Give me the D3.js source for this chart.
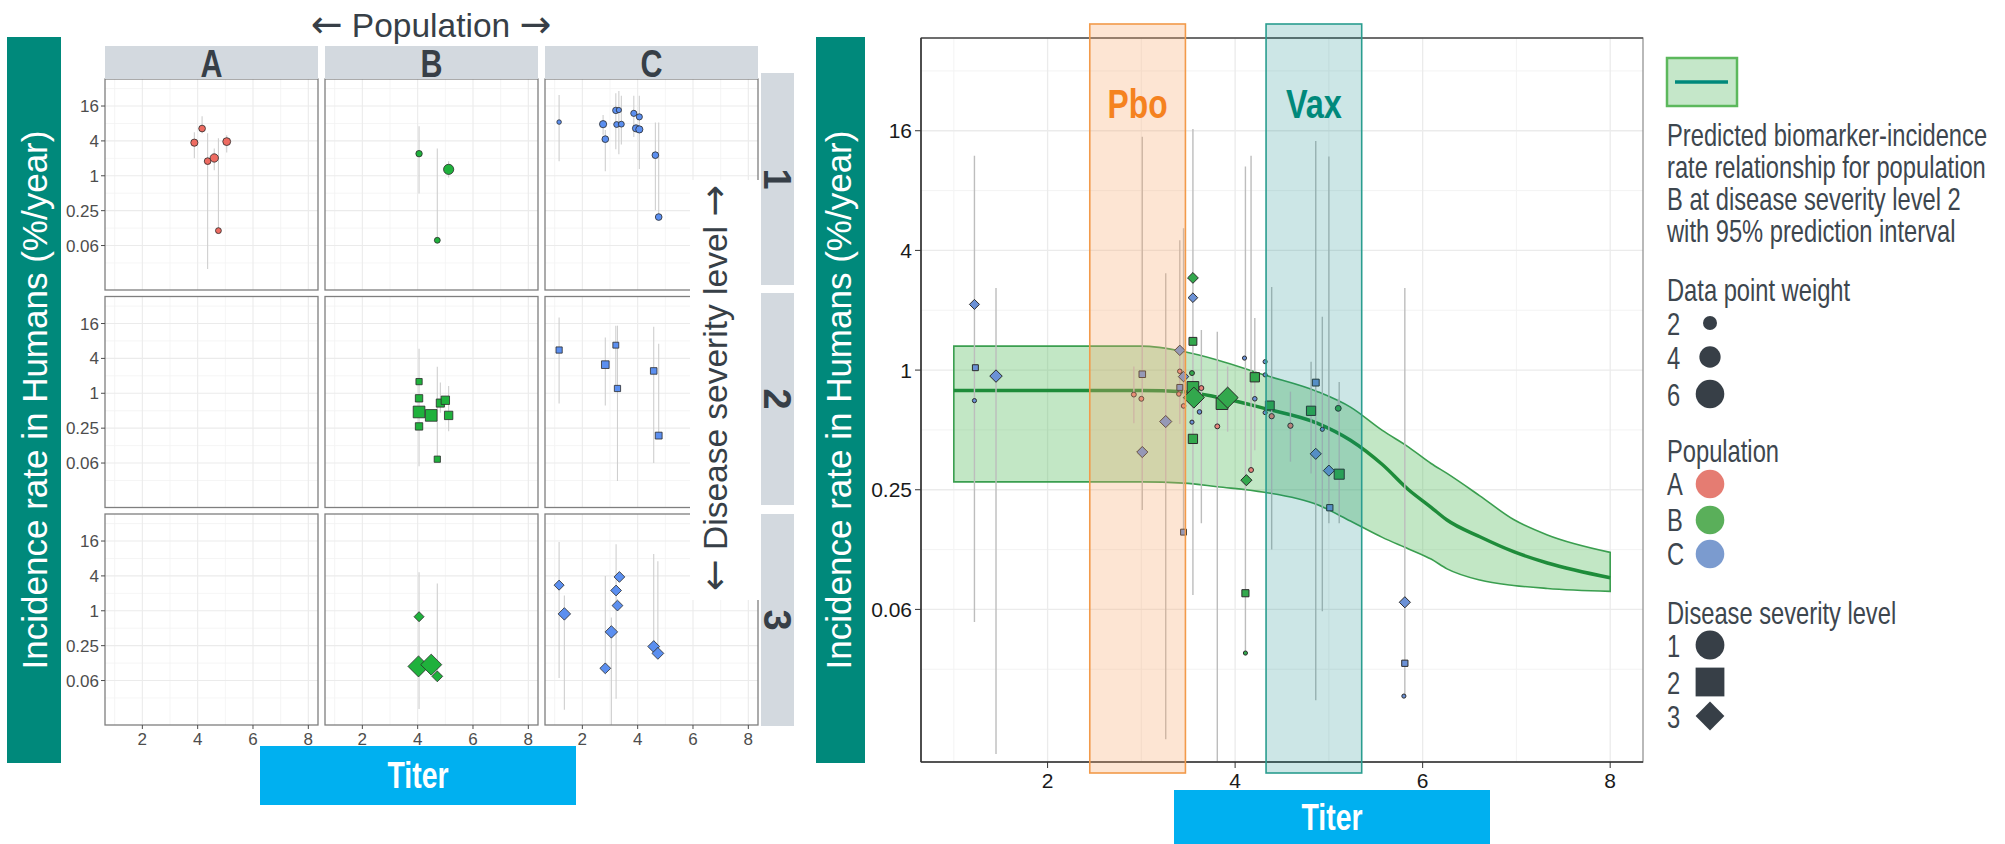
<!DOCTYPE html>
<html>
<head>
<meta charset="utf-8">
<script src="https://cdn.jsdelivr.net/npm/d3@7"></script>
<style>
  html, body { margin: 0; padding: 0; background: #fff; }
  svg { display: block; font-family: "Liberation Sans", Arial, sans-serif; }
</style>
</head>
<body>
<svg id="chart" width="2005" height="844"></svg>
<script>
// ---------------- data ----------------
const populations = ["A", "B", "C"];
const severityLevels = [1, 2, 3];
const rateTicks = [16, 4, 1, 0.25, 0.0625];
const rateTickLabels = ["16", "4", "1", "0.25", "0.06"];
const rateMinor = [32, 8, 2, 0.5, 0.125, 0.03125];
const titerTicks = [2, 4, 6, 8];
const titerMinor = [1, 3, 5, 7];

// Study-level estimates by population and severity:
// [population, severity, titer, rate, lower, upper, weight]
const facetObs = [
  ["A", 1, 3.88, 3.73, 2.0, 5.66, 1.5],
  ["A", 1, 4.16, 6.54, 5.43, 10.7, 1.3],
  ["A", 1, 4.36, 1.79, 0.0247, 5.43, 1.3],
  ["A", 1, 4.60, 2.03, 1.24, 2.97, 2.0],
  ["A", 1, 5.05, 3.89, 2.53, 4.99, 1.8],
  ["A", 1, 4.75, 0.113, 0.113, 4.44, 1.0],
  ["B", 1, 4.05, 2.41, 0.493, 7.16, 1.2],
  ["B", 1, 5.12, 1.29, 0.933, 1.78, 3.0],
  ["B", 1, 4.71, 0.077, 0.0759, 2.97, 1.0],
  ["C", 1, 1.16, 8.46, 1.78, 24.9, 0.6],
  ["C", 1, 2.75, 7.78, 5.1, 11.16, 1.5],
  ["C", 1, 2.83, 4.29, 1.2, 6.19, 1.3],
  ["C", 1, 3.21, 13.45, 2.87, 26.5, 1.2],
  ["C", 1, 3.32, 13.64, 2.36, 29.0, 0.8],
  ["C", 1, 3.24, 7.67, null, null, 1.0],
  ["C", 1, 3.41, 7.78, 3.46, 24.1, 1.0],
  ["C", 1, 3.86, 11.96, 4.66, 24.1, 1.1],
  ["C", 1, 4.06, 10.4, 1.31, 24.1, 1.1],
  ["C", 1, 3.94, 6.59, null, null, 1.5],
  ["C", 1, 4.06, 6.32, null, null, 1.5],
  ["C", 1, 4.64, 2.27, 0.254, 8.28, 1.3],
  ["C", 1, 4.76, 0.194, 0.194, 8.28, 1.3],
  ["B", 2, 4.05, 1.59, 0.0548, 5.86, 1.0],
  ["B", 2, 4.05, 0.818, null, null, 1.4],
  ["B", 2, 4.05, 0.476, null, null, 3.5],
  ["B", 2, 4.05, 0.268, null, null, 1.4],
  ["B", 2, 4.49, 0.415, null, null, 3.5],
  ["B", 2, 4.82, 0.678, 0.463, 1.53, 1.7],
  ["B", 2, 5.00, 0.758, null, null, 1.8],
  ["B", 2, 5.12, 0.415, 0.222, 1.34, 1.8],
  ["B", 2, 4.71, 0.0728, 0.0728, 2.87, 1.0],
  ["C", 2, 1.16, 5.58, 0.664, 20.25, 1.0],
  ["C", 2, 2.83, 3.12, 0.616, 9.19, 1.5],
  ["C", 2, 3.21, 6.77, 1.34, 14.7, 0.9],
  ["C", 2, 3.27, 1.21, 0.0306, 14.7, 1.0],
  ["C", 2, 4.58, 2.43, 0.0625, 14.1, 1.1],
  ["C", 2, 4.76, 0.186, 0.186, 7.16, 1.2],
  ["B", 3, 4.05, 0.79, 0.0202, 4.63, 1.3],
  ["B", 3, 4.03, 0.1096, null, null, 5.7],
  ["B", 3, 4.49, 0.1175, null, null, 5.7],
  ["B", 3, 4.71, 0.0738, 0.0728, 2.97, 1.5],
  ["C", 3, 1.16, 2.77, 0.0688, 15.45, 1.3],
  ["C", 3, 1.35, 0.883, 0.0195, 1.84, 2.0],
  ["C", 3, 2.83, 0.1015, 0.1015, 4.0, 1.5],
  ["C", 3, 3.05, 0.432, 0.0099, 0.768, 2.0],
  ["C", 3, 3.22, 2.24, 0.0302, 14.1, 1.5],
  ["C", 3, 3.27, 1.23, null, null, 1.5],
  ["C", 3, 3.34, 3.84, null, null, 1.5],
  ["C", 3, 4.58, 0.2415, 0.2415, 9.51, 1.8],
  ["C", 3, 4.73, 0.184, 0.182, 7.16, 1.8]
];

// Pooled estimates plotted against the fitted curve:
// [population, severity, titer, rate, lower, upper, weight]
const pooledObs = [
  ["C", 3, 1.22, 2.14, 0.0541, 11.96, 1.3],
  ["C", 2, 1.23, 1.028, null, null, 0.9],
  ["C", 1, 1.22, 0.702, null, null, 0.5],
  ["C", 3, 1.45, 0.933, 0.0117, 2.585, 2.0],
  ["C", 2, 3.01, 0.953, null, null, 1.1],
  ["A", 1, 2.92, 0.753, 0.54, 1.043, 0.7],
  ["A", 1, 3.00, 0.717, null, null, 0.7],
  ["C", 3, 3.26, 0.551, 0.0139, 3.07, 1.9],
  ["C", 3, 3.01, 0.387, 0.1975, 14.93, 1.6],
  ["C", 3, 3.41, 1.257, 0.536, 4.5, 1.4],
  ["A", 1, 3.41, 0.986, null, null, 0.6],
  ["C", 3, 3.45, 0.927, null, null, 1.4],
  ["C", 2, 3.41, 0.818, null, null, 0.9],
  ["A", 1, 3.40, 0.758, null, null, 0.6],
  ["A", 1, 3.45, 0.66, null, null, 0.6],
  ["C", 2, 3.45, 0.153, 0.153, 5.17, 0.9],
  ["B", 3, 3.55, 2.908, 0.0738, 16.33, 1.5],
  ["C", 3, 3.55, 2.313, null, null, 1.2],
  ["B", 2, 3.55, 1.395, null, null, 1.6],
  ["B", 1, 3.54, 0.966, null, null, 0.7],
  ["B", 2, 3.55, 0.818, null, null, 3.5],
  ["B", 3, 3.56, 0.727, null, null, 5.7],
  ["A", 1, 3.64, 0.812, 0.1696, 1.591, 0.7],
  ["C", 1, 3.62, 0.616, null, null, 0.6],
  ["C", 1, 3.54, 0.547, null, null, 0.5],
  ["B", 2, 3.55, 0.4506, null, null, 2.2],
  ["B", 2, 3.86, 0.678, null, null, 3.5],
  ["B", 3, 3.92, 0.727, 0.49, 1.043, 5.7],
  ["A", 1, 3.81, 0.521, 0.0103, 1.558, 0.7],
  ["C", 1, 4.10, 1.149, null, null, 0.5],
  ["B", 2, 4.21, 0.92, null, null, 2.2],
  ["C", 1, 4.21, 0.717, 0.395, 1.828, 0.6],
  ["C", 1, 4.32, 1.102, null, null, 0.5],
  ["C", 1, 4.32, 0.946, null, null, 0.5],
  ["B", 2, 4.37, 0.664, null, null, 2.0],
  ["C", 1, 4.32, 0.611, null, null, 0.5],
  ["A", 1, 4.39, 0.586, 0.125, 2.62, 0.8],
  ["A", 1, 4.59, 0.525, 0.346, 0.779, 0.8],
  ["C", 2, 4.86, 0.865, 0.0218, 14.22, 1.2],
  ["B", 2, 4.81, 0.624, 0.3015, 1.102, 2.2],
  ["B", 1, 5.10, 0.642, 0.616, 0.717, 1.0],
  ["C", 1, 4.93, 0.5035, 0.0612, 1.853, 0.5],
  ["C", 3, 4.86, 0.379, null, null, 1.6],
  ["C", 3, 5.00, 0.312, 0.1696, 11.88, 1.6],
  ["B", 2, 5.11, 0.2994, 0.1696, 0.871, 2.6],
  ["C", 2, 5.01, 0.203, null, null, 1.0],
  ["A", 1, 4.17, 0.3142, 0.3142, 11.96, 0.7],
  ["B", 3, 4.12, 0.2793, null, null, 1.6],
  ["B", 2, 4.11, 0.0754, 0.0375, 10.56, 1.3],
  ["B", 1, 4.11, 0.0377, null, null, 0.5],
  ["C", 3, 5.81, 0.0679, 0.0229, 2.585, 1.6],
  ["C", 2, 5.81, 0.0335, null, null, 1.0],
  ["C", 1, 5.80, 0.0229, null, null, 0.5]
];

// Fitted biomarker-incidence curve (population B, severity 2) with 95% prediction interval
const curveTiter = [1.0, 3.0, 3.45, 3.81, 4.31, 4.88, 5.23, 5.57, 5.85, 6.09, 6.26, 6.61, 6.97, 7.33, 8.0];
const curveFit   = [0.79, 0.79, 0.779, 0.732, 0.642, 0.54, 0.444, 0.335, 0.25, 0.204, 0.176, 0.145, 0.122, 0.107, 0.0902];
const curveUpper = [1.32, 1.32, 1.24, 1.125, 0.946, 0.779, 0.651, 0.497, 0.41, 0.339, 0.302, 0.233, 0.177, 0.148, 0.121];
const curveLower = [0.274, 0.274, 0.27, 0.259, 0.243, 0.21, 0.174, 0.144, 0.126, 0.112, 0.1, 0.0878, 0.0825, 0.0797, 0.077];

// Titer ranges of the two trial arms
const regimens = ["Pbo", "Vax"];
const regimenFrom = [2.45, 4.33];
const regimenTo = [3.47, 5.35];

const legendWeights = [2, 4, 6];
const legendNote = [
  "Predicted biomarker-incidence",
  "rate relationship for population",
  "B at disease severity level 2",
  "with 95% prediction interval"
];

// ---------------- styling ----------------
const INK = "#373f47";
const TEAL = "#00897b";
const SKY = "#00b0f0";
const STRIP = "#d3d9df";
const GRID = "#ebebeb";
const GRID_MINOR = "#f3f3f3";
const fillFacet = { A: "#ee6b61", B: "#1fb13c", C: "#5b8ff0" };
const fillPooled = { A: "#e6837a", B: "#33a84d", C: "#6b91d6" };
const fillLegend = { A: "#e57c72", B: "#5aaf5a", C: "#7b9bcf" };

const sizeOf = d3.scaleSqrt().domain([0, 6]).range([0, 9]);

// symbol path: circle for severity 1, square for 2, diamond for 3
function symbol(sev, s, k) {
  if (sev === 1) {
    const r = s * k[0];
    return `M${-r},0A${r},${r} 0 1,0 ${r},0A${r},${r} 0 1,0 ${-r},0Z`;
  }
  if (sev === 2) {
    const h = s * k[1];
    return `M${-h},${-h}H${h}V${h}H${-h}Z`;
  }
  const d = s * k[2];
  return `M0,${-d}L${d},0L0,${d}L${-d},0Z`;
}
const PLOT_K = [0.8, 0.85, 1.2];

// text with large arrow glyphs on both sides
function arrowTitle(sel, words) {
  sel.append("tspan").attr("font-family", "DejaVu Sans").attr("font-size", 38).text("\u2190");
  sel.append("tspan").text(" " + words + " ");
  sel.append("tspan").attr("font-family", "DejaVu Sans").attr("font-size", 38).text("\u2192");
}

const svg = d3.select("#chart");
svg.append("rect").attr("width", 2005).attr("height", 844).attr("fill", "#fff");

// ================= faceted panels =================
const FW = 213, FH = 211;
const colX = [105, 325, 545];
const rowY = [79, 296.5, 514];
const fx = d3.scaleLinear().domain([0.65, 8.35]).range([0, FW]);
const fy = d3.scaleLog().base(2).domain([2 ** -6.55, 2 ** 5.55]).range([FH, 0]).clamp(true);

const facets = svg.append("g");
severityLevels.forEach((sev, ri) => {
  populations.forEach((pop, ci) => {
    const g = facets.append("g").attr("transform", `translate(${colX[ci]},${rowY[ri]})`);
    g.append("rect").attr("width", FW).attr("height", FH).attr("fill", "#fff");
    g.selectAll(".vmin").data(titerMinor).join("line")
      .attr("x1", d => fx(d)).attr("x2", d => fx(d)).attr("y1", 0).attr("y2", FH)
      .attr("stroke", GRID_MINOR).attr("stroke-width", 0.8);
    g.selectAll(".hmin").data(rateMinor).join("line")
      .attr("y1", d => fy(d)).attr("y2", d => fy(d)).attr("x1", 0).attr("x2", FW)
      .attr("stroke", GRID_MINOR).attr("stroke-width", 0.8);
    g.selectAll(".vmaj").data(titerTicks).join("line")
      .attr("x1", d => fx(d)).attr("x2", d => fx(d)).attr("y1", 0).attr("y2", FH)
      .attr("stroke", GRID).attr("stroke-width", 1.1);
    g.selectAll(".hmaj").data(rateTicks).join("line")
      .attr("y1", d => fy(d)).attr("y2", d => fy(d)).attr("x1", 0).attr("x2", FW)
      .attr("stroke", GRID).attr("stroke-width", 1.1);

    const obs = facetObs.filter(d => d[0] === pop && d[1] === sev);
    g.selectAll(".bar").data(obs.filter(d => d[4] !== null)).join("line")
      .attr("x1", d => fx(d[2])).attr("x2", d => fx(d[2]))
      .attr("y1", d => fy(d[4])).attr("y2", d => fy(d[5]))
      .attr("stroke", "#cfcfcf").attr("stroke-width", 1.1);
    g.selectAll(".pt").data(obs).join("path")
      .attr("transform", d => `translate(${fx(d[2])},${fy(d[3])})`)
      .attr("d", d => symbol(sev, sizeOf(d[6]), PLOT_K))
      .attr("fill", fillFacet[pop]).attr("stroke", "#2b2b2b").attr("stroke-width", 0.8);

    g.append("rect").attr("width", FW).attr("height", FH)
      .attr("fill", "none").attr("stroke", "#7f7f7f").attr("stroke-width", 1.3);

    if (ci === 0) {
      g.selectAll(".yt").data(rateTicks).join("line")
        .attr("x1", -4).attr("x2", 0).attr("y1", d => fy(d)).attr("y2", d => fy(d))
        .attr("stroke", "#4d4d4d");
      g.selectAll(".yl").data(rateTicks).join("text")
        .attr("x", -6).attr("y", d => fy(d) + 6)
        .attr("text-anchor", "end").attr("font-size", 17).attr("fill", "#4d4d4d")
        .text((d, i) => rateTickLabels[i]);
    }
    if (ri === 2) {
      g.selectAll(".xt").data(titerTicks).join("line")
        .attr("x1", d => fx(d)).attr("x2", d => fx(d)).attr("y1", FH).attr("y2", FH + 4)
        .attr("stroke", "#4d4d4d");
      g.selectAll(".xl").data(titerTicks).join("text")
        .attr("x", d => fx(d)).attr("y", FH + 20)
        .attr("text-anchor", "middle").attr("font-size", 17).attr("fill", "#4d4d4d")
        .text(d => d);
    }
  });
});

// column strips
populations.forEach((pop, ci) => {
  facets.append("rect").attr("x", colX[ci]).attr("y", 46).attr("width", FW).attr("height", 33).attr("fill", STRIP);
  facets.append("text").attr("x", colX[ci] + FW / 2).attr("y", 77)
    .attr("text-anchor", "middle").attr("font-size", 38).attr("font-weight", "bold")
    .attr("fill", INK).attr("textLength", 22).attr("lengthAdjust", "spacingAndGlyphs").text(pop);
});
// row strips
const rowStripTop = [73, 293, 514];
severityLevels.forEach((sev, ri) => {
  facets.append("rect").attr("x", 761).attr("y", rowStripTop[ri]).attr("width", 33).attr("height", 212).attr("fill", STRIP);
  facets.append("text").attr("transform", `translate(764,${rowStripTop[ri] + 106}) rotate(90)`)
    .attr("text-anchor", "middle").attr("font-size", 38).attr("font-weight", "bold")
    .attr("fill", INK).text(sev);
});

// facet titles
arrowTitle(
  svg.append("text").attr("x", 431).attr("y", 37).attr("text-anchor", "middle")
    .attr("font-size", 33.5).attr("fill", INK),
  "Population");
svg.append("rect").attr("x", 690).attr("y", 180).attr("width", 70).attr("height", 420).attr("fill", "#fff");
arrowTitle(
  svg.append("text").attr("transform", "translate(727,388) rotate(-90)").attr("text-anchor", "middle")
    .attr("font-size", 33.5).attr("fill", INK),
  "Disease severity level");

// axis title boxes
function tealTitle(x0, w, baseX) {
  svg.append("rect").attr("x", x0).attr("y", 37).attr("width", w).attr("height", 726).attr("fill", TEAL);
  svg.append("text").attr("transform", `translate(${baseX},400) rotate(-90)`).attr("text-anchor", "middle")
    .attr("font-size", 35).attr("fill", "#fff").text("Incidence rate in Humans (%/year)");
}
function titerTitle(x0, y0, h, base) {
  svg.append("rect").attr("x", x0).attr("y", y0).attr("width", 316).attr("height", h).attr("fill", SKY);
  svg.append("text").attr("x", x0 + 158).attr("y", base).attr("text-anchor", "middle")
    .attr("font-size", 36).attr("font-weight", "bold").attr("fill", "#fff")
    .attr("textLength", 61).attr("lengthAdjust", "spacingAndGlyphs").text("Titer");
}
tealTitle(7, 54, 47);
titerTitle(260, 746, 59, 788);

// ================= pooled panel =================
const RX0 = 921, RX1 = 1643, RY0 = 38, RY1 = 762;
const xR = d3.scaleLinear().domain([0.65, 8.35]).range([RX0, RX1]);
const yR = d3.scaleLog().base(2).domain([2 ** -6.55, 2 ** 5.55]).range([RY1, RY0]).clamp(true);

const rp = svg.append("g");
rp.append("rect").attr("x", RX0).attr("y", RY0).attr("width", RX1 - RX0).attr("height", RY1 - RY0).attr("fill", "#fff");
rp.selectAll(".vmin").data(titerMinor).join("line")
  .attr("x1", d => xR(d)).attr("x2", d => xR(d)).attr("y1", RY0).attr("y2", RY1)
  .attr("stroke", GRID_MINOR).attr("stroke-width", 1);
rp.selectAll(".hmin").data(rateMinor).join("line")
  .attr("y1", d => yR(d)).attr("y2", d => yR(d)).attr("x1", RX0).attr("x2", RX1)
  .attr("stroke", GRID_MINOR).attr("stroke-width", 1);
rp.selectAll(".vmaj").data(titerTicks).join("line")
  .attr("x1", d => xR(d)).attr("x2", d => xR(d)).attr("y1", RY0).attr("y2", RY1)
  .attr("stroke", GRID).attr("stroke-width", 1.3);
rp.selectAll(".hmaj").data(rateTicks).join("line")
  .attr("y1", d => yR(d)).attr("y2", d => yR(d)).attr("x1", RX0).attr("x2", RX1)
  .attr("stroke", GRID).attr("stroke-width", 1.3);

// prediction band and fitted line
const curve = curveTiter.map((t, i) => ({ t, fit: curveFit[i], lo: curveLower[i], hi: curveUpper[i] }));
rp.append("path").datum(curve)
  .attr("d", d3.area().x(d => xR(d.t)).y0(d => yR(d.lo)).y1(d => yR(d.hi)).curve(d3.curveMonotoneX))
  .attr("fill", "rgba(80,185,90,0.35)").attr("stroke", "#3a9e4f").attr("stroke-width", 1.6);
rp.append("path").datum(curve)
  .attr("d", d3.line().x(d => xR(d.t)).y(d => yR(d.fit)).curve(d3.curveMonotoneX))
  .attr("fill", "none").attr("stroke", "#1e8c3a").attr("stroke-width", 3.5);

// error bars and points
rp.selectAll(".bar").data(pooledObs.filter(d => d[4] !== null)).join("line")
  .attr("x1", d => xR(d[2])).attr("x2", d => xR(d[2]))
  .attr("y1", d => yR(d[4])).attr("y2", d => yR(d[5]))
  .attr("stroke", "#bdbdbd").attr("stroke-width", 1.4);
rp.selectAll(".pt").data(pooledObs).join("path")
  .attr("transform", d => `translate(${xR(d[2])},${yR(d[3])})`)
  .attr("d", d => symbol(d[1], sizeOf(d[6]), PLOT_K))
  .attr("fill", d => fillPooled[d[0]]).attr("stroke", "#2b2b2b").attr("stroke-width", 1);

// panel frame and axes
rp.append("rect").attr("x", RX0).attr("y", RY0).attr("width", RX1 - RX0).attr("height", RY1 - RY0)
  .attr("fill", "none").attr("stroke", "#8a8a8a").attr("stroke-width", 1.2);
rp.append("line").attr("x1", RX0).attr("x2", RX1).attr("y1", RY0).attr("y2", RY0).attr("stroke", "#555").attr("stroke-width", 1.4);
rp.append("line").attr("x1", RX0).attr("x2", RX0).attr("y1", RY0).attr("y2", RY1).attr("stroke", "#333").attr("stroke-width", 1.6);
rp.append("line").attr("x1", RX0).attr("x2", RX1).attr("y1", RY1).attr("y2", RY1).attr("stroke", "#333").attr("stroke-width", 1.6);
rp.selectAll(".yt").data(rateTicks).join("line")
  .attr("x1", RX0 - 6).attr("x2", RX0).attr("y1", d => yR(d)).attr("y2", d => yR(d)).attr("stroke", "#333");
rp.selectAll(".yl").data(rateTicks).join("text")
  .attr("x", RX0 - 9).attr("y", d => yR(d) + 7.5).attr("text-anchor", "end")
  .attr("font-size", 21).attr("fill", "#1a1a1a").text((d, i) => rateTickLabels[i]);
rp.selectAll(".xt").data(titerTicks).join("line")
  .attr("x1", d => xR(d)).attr("x2", d => xR(d)).attr("y1", RY1).attr("y2", RY1 + 6).attr("stroke", "#333");
rp.selectAll(".xl").data(titerTicks).join("text")
  .attr("x", d => xR(d)).attr("y", 788).attr("text-anchor", "middle")
  .attr("font-size", 21).attr("fill", "#1a1a1a").text(d => d);

// trial-arm titer windows
const armFill = ["rgba(248,170,110,0.3)", "rgba(0,128,128,0.2)"];
const armStroke = ["#f29a4a", "#2a9d8f"];
const armText = ["#f5821f", "#00897b"];
const armTextLen = [60, 56];
regimens.forEach((name, i) => {
  const x0 = xR(regimenFrom[i]), x1 = xR(regimenTo[i]);
  rp.append("rect").attr("x", x0).attr("y", 24).attr("width", x1 - x0).attr("height", 749)
    .attr("fill", armFill[i]).attr("stroke", armStroke[i]).attr("stroke-width", 1.6);
  rp.append("text").attr("x", (x0 + x1) / 2).attr("y", 118).attr("text-anchor", "middle")
    .attr("font-size", 40).attr("font-weight", "bold").attr("fill", armText[i])
    .attr("textLength", armTextLen[i]).attr("lengthAdjust", "spacingAndGlyphs").text(name);
});

tealTitle(816, 49, 851);
titerTitle(1174, 790, 54, 830);

// ================= legend =================
const lg = svg.append("g");
const LX = 1667, SX = 1710;
function legendText(txt, y) {
  lg.append("text").attr("transform", `translate(${LX},${y}) scale(0.765,1)`)
    .attr("font-size", 31).attr("fill", "#3d464e").text(txt);
}
lg.append("rect").attr("x", 1667).attr("y", 58).attr("width", 70).attr("height", 48)
  .attr("fill", "#c5e7c9").attr("stroke", "#5cb85c").attr("stroke-width", 2.5);
lg.append("line").attr("x1", 1675).attr("x2", 1728).attr("y1", 82).attr("y2", 82)
  .attr("stroke", TEAL).attr("stroke-width", 3.5);
legendNote.forEach((t, i) => legendText(t, 146 + i * 32));

legendText("Data point weight", 301);
const weightR = d3.scaleLinear().domain([2, 6]).range([7, 14.3]);
const weightY = [323, 357, 394];
legendWeights.forEach((w, i) => {
  legendText(String(w), weightY[i] + 12);
  lg.append("path").attr("transform", `translate(${SX},${weightY[i]})`)
    .attr("d", symbol(1, weightR(w), [1, 1, 1])).attr("fill", INK);
});

legendText("Population", 462);
const popY = [484, 520, 554];
populations.forEach((p, i) => {
  legendText(p, popY[i] + 11);
  lg.append("path").attr("transform", `translate(${SX},${popY[i]})`)
    .attr("d", symbol(1, 14.3, [1, 1, 1])).attr("fill", fillLegend[p]);
});

legendText("Disease severity level", 624);
const sevY = [645, 682, 716];
severityLevels.forEach((s, i) => {
  legendText(String(s), sevY[i] + 12);
  lg.append("path").attr("transform", `translate(${SX},${sevY[i]})`)
    .attr("d", symbol(s, 14.4, [1, 1, 1])).attr("fill", INK);
});
</script>
</body>
</html>
